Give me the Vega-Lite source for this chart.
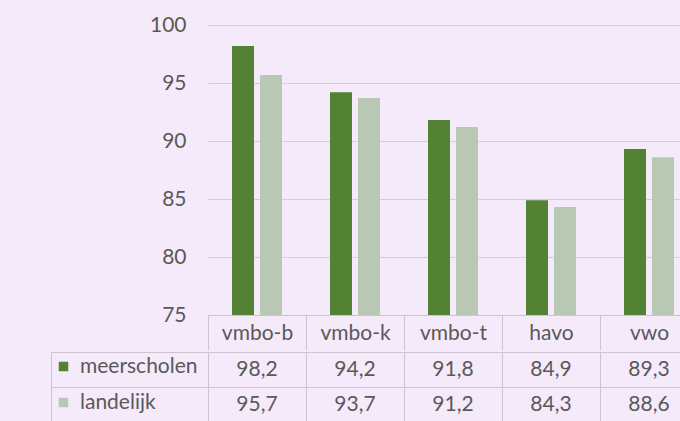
{
  "$schema": "https://vega.github.io/schema/vega-lite/v6.json",
  "background": "#f4eafa",
  "padding": {"left": 50, "top": 14, "right": 0, "bottom": 0},
  "spacing": 0,
  "datasets": {
    "scores": [
      {"category": "vmbo-b", "series": "meerscholen", "value": 98.2},
      {"category": "vmbo-k", "series": "meerscholen", "value": 94.2},
      {"category": "vmbo-t", "series": "meerscholen", "value": 91.8},
      {"category": "havo", "series": "meerscholen", "value": 84.9},
      {"category": "vwo", "series": "meerscholen", "value": 89.3},
      {"category": "vmbo-b", "series": "landelijk", "value": 95.7},
      {"category": "vmbo-k", "series": "landelijk", "value": 93.7},
      {"category": "vmbo-t", "series": "landelijk", "value": 91.2},
      {"category": "havo", "series": "landelijk", "value": 84.3},
      {"category": "vwo", "series": "landelijk", "value": 88.6}
    ]
  },
  "config": {
    "view": {"stroke": null},
    "font": "Lato",
    "locale": {"number": {"decimal": ",", "thousands": ".", "grouping": [3], "currency": ["€", ""]}},
    "axis": {"labelFont": "Lato", "labelColor": "#595959", "labelFontSize": 21, "title": null}
  },
  "vconcat": [
    {
      "width": 490,
      "height": 290,
      "data": {"name": "scores"},
      "mark": {"type": "bar", "clip": true},
      "encoding": {
        "x": {
          "field": "category", "type": "nominal",
          "sort": ["vmbo-b", "vmbo-k", "vmbo-t", "havo", "vwo"],
          "scale": {"paddingInner": 0, "paddingOuter": 0},
          "axis": {"orient": "bottom", "labelAngle": 0, "domain": true, "domainColor": "#cdc4d1", "ticks": true, "tickBand": "extent", "tickSize": 35, "tickColor": "#cdc4d1", "labelPadding": -17, "labelBaseline": "middle", "grid": false}
        },
        "xOffset": {
          "field": "series", "type": "nominal",
          "sort": ["meerscholen", "landelijk"],
          "scale": {"paddingInner": 0.2143, "paddingOuter": 0.857}
        },
        "y": {
          "field": "value", "type": "quantitative",
          "scale": {"domain": [75, 100], "zero": false, "nice": false},
          "axis": {"values": [75, 80, 85, 90, 95, 100], "grid": true, "gridColor": "#d5ccd9", "domain": false, "ticks": false, "labelPadding": 22}
        },
        "color": {
          "field": "series", "type": "nominal",
          "scale": {"domain": ["meerscholen", "landelijk"], "range": ["#548235", "#b9c8b5"]},
          "legend": {"orient": "none", "legendX": -155, "legendY": 331, "title": null, "symbolType": "square", "symbolSize": 90, "symbolStrokeWidth": 0, "labelFontSize": 21, "labelColor": "#595959", "labelFont": "Lato", "rowPadding": 14, "labelOffset": 6, "padding": 0}
        }
      }
    },
    {
      "width": 490,
      "height": 70,
      "data": {"name": "scores"},
      "mark": {"type": "text", "font": "Lato", "fontSize": 21, "color": "#595959"},
      "encoding": {
        "x": {
          "field": "category", "type": "nominal",
          "sort": ["vmbo-b", "vmbo-k", "vmbo-t", "havo", "vwo"],
          "scale": {"paddingInner": 0, "paddingOuter": 0},
          "axis": {"orient": "bottom", "labels": false, "ticks": false, "domain": false, "grid": true, "tickBand": "extent", "gridColor": "#cdc4d1"}
        },
        "y": {
          "field": "series", "type": "nominal",
          "sort": ["meerscholen", "landelijk"],
          "scale": {"paddingInner": 0, "paddingOuter": 0},
          "axis": {"orient": "left", "offset": 157, "labels": false, "domain": true, "domainColor": "#cdc4d1", "ticks": true, "tickSize": -157, "tickBand": "extent", "tickColor": "#cdc4d1", "grid": true, "gridColor": "#cdc4d1"}
        },
        "text": {"field": "value", "type": "quantitative", "format": ".1f"}
      }
    }
  ]
}
